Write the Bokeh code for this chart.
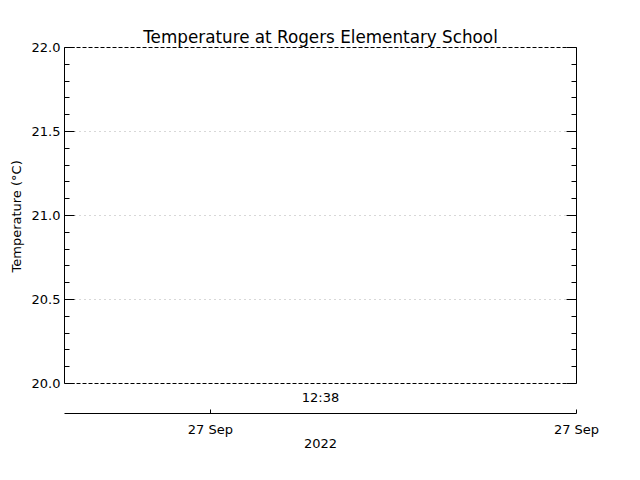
from datetime import datetime
from bokeh.plotting import figure
from bokeh.models import (Range1d, LinearAxis, FixedTicker, Grid, Label, Title,
                          DatetimeTickFormatter, PrintfTickFormatter,
                          CustomJSTickFormatter)
from bokeh.embed import file_html
from bokeh.resources import INLINE

# ---- data ----
title_text = "Temperature at Rogers Elementary School"
y_label = "Temperature (°C)"
year_label = "2022"
time_label = "12:38"
time_label_at = datetime(2022, 9, 27, 12, 38)
x_start = datetime(2022, 9, 27, 12, 18)
x_end = datetime(2022, 9, 27, 12, 58)
x_ticks = [datetime(2022, 9, 27, 12, 29, 24), datetime(2022, 9, 27, 12, 58)]
y_min, y_max = 20.0, 22.0
y_major = [20.0, 20.5, 21.0, 21.5, 22.0]
y_minor = [20.1, 20.2, 20.3, 20.4, 20.6, 20.7, 20.8, 20.9,
           21.1, 21.2, 21.3, 21.4, 21.6, 21.7, 21.8, 21.9]
y_grid = [20.5, 21.0, 21.5]
temperatures = []  # no readings shown
times = []

FONT = "DejaVu Sans"

def ms(d):
    return d.timestamp() * 1000.0

px_per_unit = 168.0
# extend the frame below 20.0 so the time axis sits 30px under the box
y_start = y_min - 30.0 / px_per_unit

p = figure(width=640, height=480, output_backend="svg", toolbar_location=None,
           x_axis_type=None, y_axis_type=None,
           x_range=Range1d(ms(x_start), ms(x_end)),
           y_range=Range1d(y_start, y_max),
           min_border_left=64, min_border_right=64,
           min_border_top=47, min_border_bottom=67)
p.outline_line_color = None
p.background_fill_color = "white"
p.border_fill_color = "white"

p.title.text = title_text
p.title.align = "center"
p.title.text_font = FONT
p.title.text_font_size = "16.8px"
p.title.text_font_style = "normal"
p.title.text_color = "black"
p.title.standoff = 2

yticker = FixedTicker(ticks=y_major, minor_ticks=y_minor)

def style_y(ax):
    ax.bounds = (y_min, y_max)
    ax.ticker = yticker
    ax.axis_line_color = "black"
    ax.major_tick_in = 10
    ax.major_tick_out = 0
    ax.minor_tick_in = 5
    ax.minor_tick_out = 0
    ax.major_tick_line_color = "black"
    ax.minor_tick_line_color = "black"
    ax.major_label_text_font = FONT
    ax.major_label_text_font_size = "13px"
    ax.major_label_text_color = "black"

yl = LinearAxis()
style_y(yl)
yl.formatter = PrintfTickFormatter(format="%.1f")
yl.major_label_standoff = 4
p.add_layout(yl, "left")

# y-axis title, placed along the 20-22 box
ytitle = Title(text=y_label, align="left", offset=141,
               text_font=FONT, text_font_size="13px",
               text_font_style="normal", text_color="black", standoff=10)
p.add_layout(ytitle, "left")

yr = LinearAxis()
style_y(yr)
yr.formatter = CustomJSTickFormatter(code="return ''")
yr.major_label_standoff = 0
p.add_layout(yr, "right")

# dashed top edge of the box
top = LinearAxis(ticker=FixedTicker(ticks=[]))
top.axis_line_color = "black"
top.axis_line_dash = "4 2"
top.major_tick_line_color = None
top.minor_tick_line_color = None
top.formatter = CustomJSTickFormatter(code="return ''")
top.major_label_standoff = 0
p.add_layout(top, "above")

xa = LinearAxis(axis_label=year_label)
xa.ticker = FixedTicker(ticks=[ms(t) for t in x_ticks], minor_ticks=[])
xa.formatter = DatetimeTickFormatter(
    microseconds="%d %b", milliseconds="%d %b", seconds="%d %b",
    minsec="%d %b", minutes="%d %b", hourmin="%d %b", hours="%d %b",
    days="%d %b", months="%d %b", years="%d %b")
xa.axis_line_color = "black"
xa.major_tick_in = 4
xa.major_tick_out = 0
xa.major_tick_line_color = "black"
xa.major_label_text_font = FONT
xa.major_label_text_font_size = "13px"
xa.major_label_text_color = "black"
xa.major_label_standoff = 8
xa.axis_label_text_font = FONT
xa.axis_label_text_font_size = "13px"
xa.axis_label_text_font_style = "normal"
xa.axis_label_text_color = "black"
xa.axis_label_standoff = -1
p.add_layout(xa, "below")

# dotted interior grid
p.add_layout(Grid(dimension=1, ticker=FixedTicker(ticks=y_grid),
                  grid_line_color="#b0b0b0", grid_line_dash="1 4"))
# dashed bottom edge of the box
p.add_layout(Grid(dimension=1, ticker=FixedTicker(ticks=[y_min]),
                  grid_line_color="black", grid_line_dash="4 2"))

p.line(x=times, y=temperatures, line_color="black")

p.add_layout(Label(x=ms(time_label_at), y=y_min - 14.0 / px_per_unit,
                   text=time_label, text_align="center", text_baseline="middle",
                   text_font=FONT, text_font_size="13px", text_color="black"))

open("out.html", "w").write(file_html(p, INLINE))
